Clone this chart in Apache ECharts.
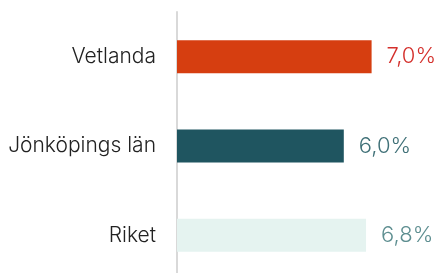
<!DOCTYPE html>
<html>
<head>
<meta charset="utf-8">
<script src="https://cdn.jsdelivr.net/npm/echarts@6/dist/echarts.min.js"></script>
<style>
  html, body { margin: 0; padding: 0; background: #fff; }
  #chart { width: 440px; height: 273px; }
</style>
</head>
<body>
<div id="chart"></div>
<script>
  // regions, top to bottom
  const categories = ["Vetlanda", "Jönköpings län", "Riket"];
  const values = [7.0, 6.0, 6.8];
  const barColors = ["#d63e10", "#1f5560", "#e5f3f0"];
  const labelColors = ["#d4302c", "#3f7077", "#5d8e90"];

  const chart = echarts.init(document.getElementById("chart"));

  const option = {
    backgroundColor: "#fff",
    animation: false,
    grid: {
      left: 177,
      top: 12,
      width: 278,
      height: 268,
      containLabel: false,
      outerBoundsMode: "none",
    },
    xAxis: {
      type: "value",
      min: 0,
      max: 10,
      show: false,
    },
    yAxis: {
      type: "category",
      inverse: true,
      data: categories,
      axisLine: { show: true, lineStyle: { color: "#d9d9d9", width: 2 } },
      axisTick: { show: false },
      axisLabel: {
        margin: 21,
        color: "#222",
        fontFamily: "Inter",
        fontWeight: 300,
        fontSize: 21,
      },
    },
    series: [
      {
        type: "bar",
        barWidth: 33,
        data: values.map((v, i) => ({
          value: v,
          itemStyle: { color: barColors[i] },
          label: { color: labelColors[i] },
        })),
        label: {
          show: true,
          position: "right",
          distance: 15,
          fontFamily: "Inter",
          fontWeight: 300,
          fontSize: 22,
          formatter: (p) => p.value.toFixed(1).replace(".", ",") + "%",
        },
      },
    ],
  };

  chart.setOption(option);
</script>
</body>
</html>
